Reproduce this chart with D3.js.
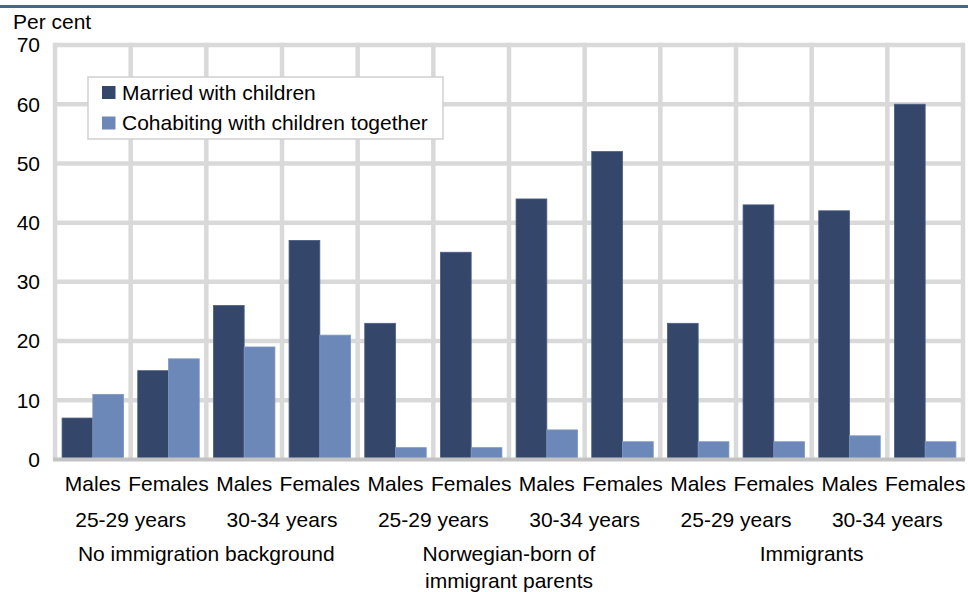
<!DOCTYPE html>
<html>
<head>
<meta charset="utf-8">
<script src="https://cdn.jsdelivr.net/npm/d3@7"></script>
<style>
  html, body { margin: 0; padding: 0; background: #fff; }
  svg { display: block; font-family: "Liberation Sans", Arial, sans-serif; }
</style>
</head>
<body>
<svg id="chart" width="968" height="592"></svg>
<script>
const sexLabels = ["Males","Females","Males","Females","Males","Females","Males","Females","Males","Females","Males","Females"];
const ageLabels = ["25-29 years","30-34 years","25-29 years","30-34 years","25-29 years","30-34 years"];
const backgroundLabels = [["No immigration background"],["Norwegian-born of","immigrant parents"],["Immigrants"]];
const seriesNames = ["Married with children","Cohabiting with children together"];
const married = [7,15,26,37,23,35,44,52,23,43,42,60];
const cohabiting = [11,17,19,21,2,2,5,3,3,3,4,3];
const yTicks = [0,10,20,30,40,50,60,70];

const colors = ["#34476b","#6c88b8"];
const svg = d3.select("#chart");
const W = 968;
const fs = 21;

// top rule
svg.append("rect").attr("x",0).attr("y",5).attr("width",W).attr("height",3).attr("fill","#4a6293");

const x0 = d3.scaleBand().domain(d3.range(sexLabels.length)).range([55,963]).padding(0);
const x1 = d3.scaleBand().domain([0,1]).range([0,x0.bandwidth()]).paddingInner(0).paddingOuter(0.23);
const y = d3.scaleLinear().domain([0,70]).range([459.5,45]);

// grid
const grid = svg.append("g").attr("stroke","#d9d9d9").attr("stroke-width",4.5);
grid.selectAll("line.h").data(yTicks.filter(d=>d>0)).join("line")
  .attr("x1",55).attr("x2",963).attr("y1",d=>y(d)).attr("y2",d=>y(d));
const bounds = d3.range(sexLabels.length+1).map(i => i<sexLabels.length ? x0(i) : x0(i-1)+x0.bandwidth());
grid.selectAll("line.v").data(bounds).join("line")
  .attr("x1",d=>d).attr("x2",d=>d).attr("y1",y(70)-2.2).attr("y2",y(0));

// bars
const data = sexLabels.map((s,i)=>({i, vals:[married[i],cohabiting[i]]}));
const groups = svg.append("g").selectAll("g").data(data).join("g")
  .attr("transform",d=>`translate(${x0(d.i)},0)`);
groups.selectAll("rect").data(d=>d.vals.map((v,k)=>({v,k}))).join("rect")
  .attr("x",d=>x1(d.k)).attr("width",x1.bandwidth())
  .attr("y",d=>y(d.v)).attr("height",d=>y(0)-y(d.v))
  .attr("fill",d=>colors[d.k])
  .attr("stroke",d=>d.k===0?"#4a5d84":"#7d97c2").attr("stroke-width",0.8);

// x axis line
svg.append("line").attr("x1",53).attr("x2",965).attr("y1",y(0)).attr("y2",y(0))
  .attr("stroke","#c3c3c3").attr("stroke-width",4);

// y tick labels
svg.append("g").selectAll("text").data(yTicks).join("text")
  .attr("x",40).attr("y",d=>y(d)).attr("dy","0.35em").attr("text-anchor","end")
  .attr("font-size",fs).attr("fill","#000").text(d=>d);

svg.append("text").attr("x",13).attr("y",28.5).attr("font-size",fs).attr("fill","#000").text("Per cent");

// category labels
svg.append("g").selectAll("text").data(sexLabels).join("text")
  .attr("x",(d,i)=>x0(i)+x0.bandwidth()/2).attr("y",491).attr("text-anchor","middle")
  .attr("font-size",fs).attr("fill","#000").text(d=>d);
svg.append("g").selectAll("text").data(ageLabels).join("text")
  .attr("x",(d,i)=>x0(i*2)+x0.bandwidth()).attr("y",527).attr("text-anchor","middle")
  .attr("font-size",fs).attr("fill","#000").text(d=>d);
const bg = svg.append("g").selectAll("text").data(backgroundLabels).join("text")
  .attr("x",(d,i)=>x0(i*4)+2*x0.bandwidth()).attr("y",561).attr("text-anchor","middle")
  .attr("font-size",fs).attr("fill","#000");
bg.selectAll("tspan").data(d=>d).join("tspan")
  .attr("x",function(){return d3.select(this.parentNode).attr("x");})
  .attr("dy",(d,j)=>j===0?0:27).text(d=>d);

// legend
const lg = svg.append("g");
lg.append("rect").attr("x",88).attr("y",77).attr("width",355).attr("height",62)
  .attr("fill","#fff").attr("stroke","#d0d0d0").attr("stroke-width",1.5);
const items = lg.selectAll("g").data(seriesNames).join("g")
  .attr("transform",(d,i)=>`translate(0,${92.5+i*30.5})`);
items.append("rect").attr("x",102).attr("y",-6.5).attr("width",13.5).attr("height",13)
  .attr("fill",(d,i)=>colors[i]);
items.append("text").attr("x",122).attr("y",0).attr("dy","0.35em")
  .attr("font-size",fs).attr("fill","#000").text(d=>d);
</script>
</body>
</html>
